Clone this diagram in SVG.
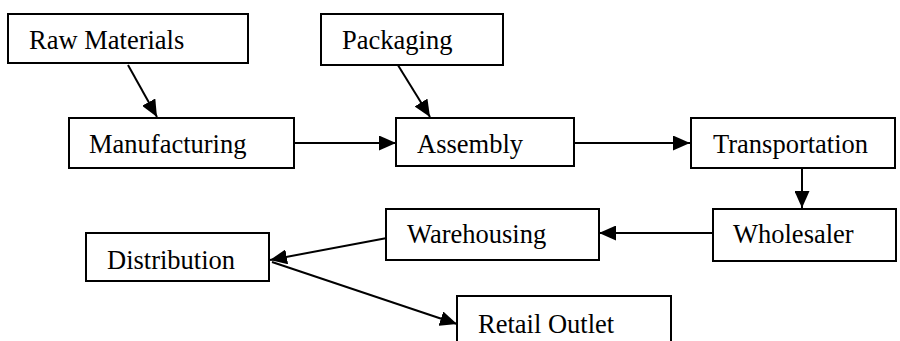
<svg xmlns="http://www.w3.org/2000/svg" width="900" height="341" viewBox="0 0 900 341">
  <style>
    .box { fill: #ffffff; stroke: #000000; stroke-width: 2; }
    .lbl { font-family: "Liberation Serif", "Times New Roman", "DejaVu Serif", serif; font-size: 26.5px; fill: #000000; }
    .edge { fill: none; stroke: #000000; stroke-width: 2; marker-end: url(#head); }
  </style>
  <defs>
    <marker id="head" markerUnits="userSpaceOnUse" markerWidth="17" markerHeight="15" refX="17" refY="7.5" orient="auto">
      <path d="M0,0 L17,7.5 L0,15 z" fill="#000000"/>
    </marker>
  </defs>
  <rect width="900" height="341" fill="#ffffff"/>

  <g id="connectors">
    <line class="edge" x1="128" y1="65" x2="157" y2="117"/>
    <line class="edge" x1="396" y1="62" x2="430" y2="117"/>
    <line class="edge" x1="294" y1="143" x2="396" y2="143"/>
    <line class="edge" x1="574" y1="143" x2="690" y2="143"/>
    <line class="edge" x1="802" y1="168" x2="802" y2="208"/>
    <line class="edge" x1="713" y1="233" x2="599" y2="233"/>
    <line class="edge" x1="387" y1="238" x2="270" y2="260"/>
    <line class="edge" x1="272" y1="262" x2="457" y2="324"/>
  </g>

  <g id="raw-materials">
    <rect class="box" x="8" y="14" width="240" height="49"/>
    <text class="lbl" x="29" y="49">Raw Materials</text>
  </g>
  <g id="packaging">
    <rect class="box" x="321" y="14" width="182" height="51"/>
    <text class="lbl" x="342" y="49">Packaging</text>
  </g>
  <g id="manufacturing">
    <rect class="box" x="69" y="118" width="225" height="50"/>
    <text class="lbl" x="89" y="153">Manufacturing</text>
  </g>
  <g id="assembly">
    <rect class="box" x="396" y="118" width="178" height="48"/>
    <text class="lbl" x="417" y="153">Assembly</text>
  </g>
  <g id="transportation">
    <rect class="box" x="691" y="118" width="204" height="50"/>
    <text class="lbl" x="713" y="153">Transportation</text>
  </g>
  <g id="wholesaler">
    <rect class="box" x="713" y="209" width="183" height="52"/>
    <text class="lbl" x="733" y="243">Wholesaler</text>
  </g>
  <g id="warehousing">
    <rect class="box" x="386" y="209" width="213" height="51"/>
    <text class="lbl" x="407" y="243">Warehousing</text>
  </g>
  <g id="distribution">
    <rect class="box" x="86" y="233" width="183" height="48"/>
    <text class="lbl" x="107" y="269">Distribution</text>
  </g>
  <g id="retail-outlet">
    <rect class="box" x="457" y="296" width="214" height="60"/>
    <text class="lbl" x="478" y="333">Retail Outlet</text>
  </g>
</svg>
